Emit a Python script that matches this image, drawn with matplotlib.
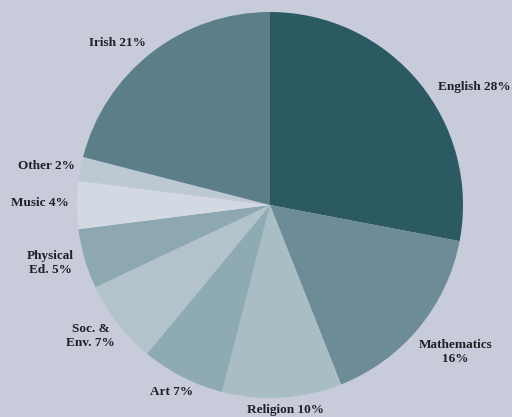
import matplotlib
matplotlib.use("Agg")
import matplotlib.pyplot as plt

# Share of teaching time per subject (%), clockwise from 12 o'clock
subjects = ["English", "Mathematics", "Religion", "Art", "Soc. &\nEnv.",
            "Physical\nEd.", "Music", "Other", "Irish"]
shares = [28, 16, 10, 7, 7, 5, 4, 2, 21]
colors = ["#2b5a63", "#6d8c97", "#a9bdc5", "#8eaab2", "#b2c3cc",
          "#8ea8b1", "#d2d9e2", "#bcc8d2", "#5b7e89"]

# label anchor positions in pie-radius units (x, y)
label_pos = [(1.06, 0.61), (0.96, -0.76), (0.08, -1.06), (-0.51, -0.97),
             (-0.93, -0.68), (-1.14, -0.30), (-1.19, 0.01), (-1.16, 0.20),
             (-0.79, 0.84)]

bg = "#c7cbda"
fig = plt.figure(figsize=(5.12, 4.17), dpi=100, facecolor=bg)
ax = fig.add_axes([0, 0, 1, 1])
ax.set_facecolor(bg)

ax.pie(shares, colors=colors, startangle=90, counterclock=False,
       wedgeprops=dict(linewidth=0))

for name, val, (x, y) in zip(subjects, shares, label_pos):
    if name == "Mathematics":
        txt = f"{name}\n{val}%"
    else:
        txt = f"{name} {val}%"
    ax.text(x, y, txt, ha="center", va="center", fontsize=9.5,
            fontweight="bold", family="Liberation Serif", color="#1f1f25",
            linespacing=1.25)

ax.set_xlim(-270 / 193, (512 - 270) / 193)
ax.set_ylim((205 - 417) / 193, 205 / 193)
ax.set_aspect("auto")
ax.axis("off")

fig.savefig("out.png", dpi=100, facecolor=bg)
